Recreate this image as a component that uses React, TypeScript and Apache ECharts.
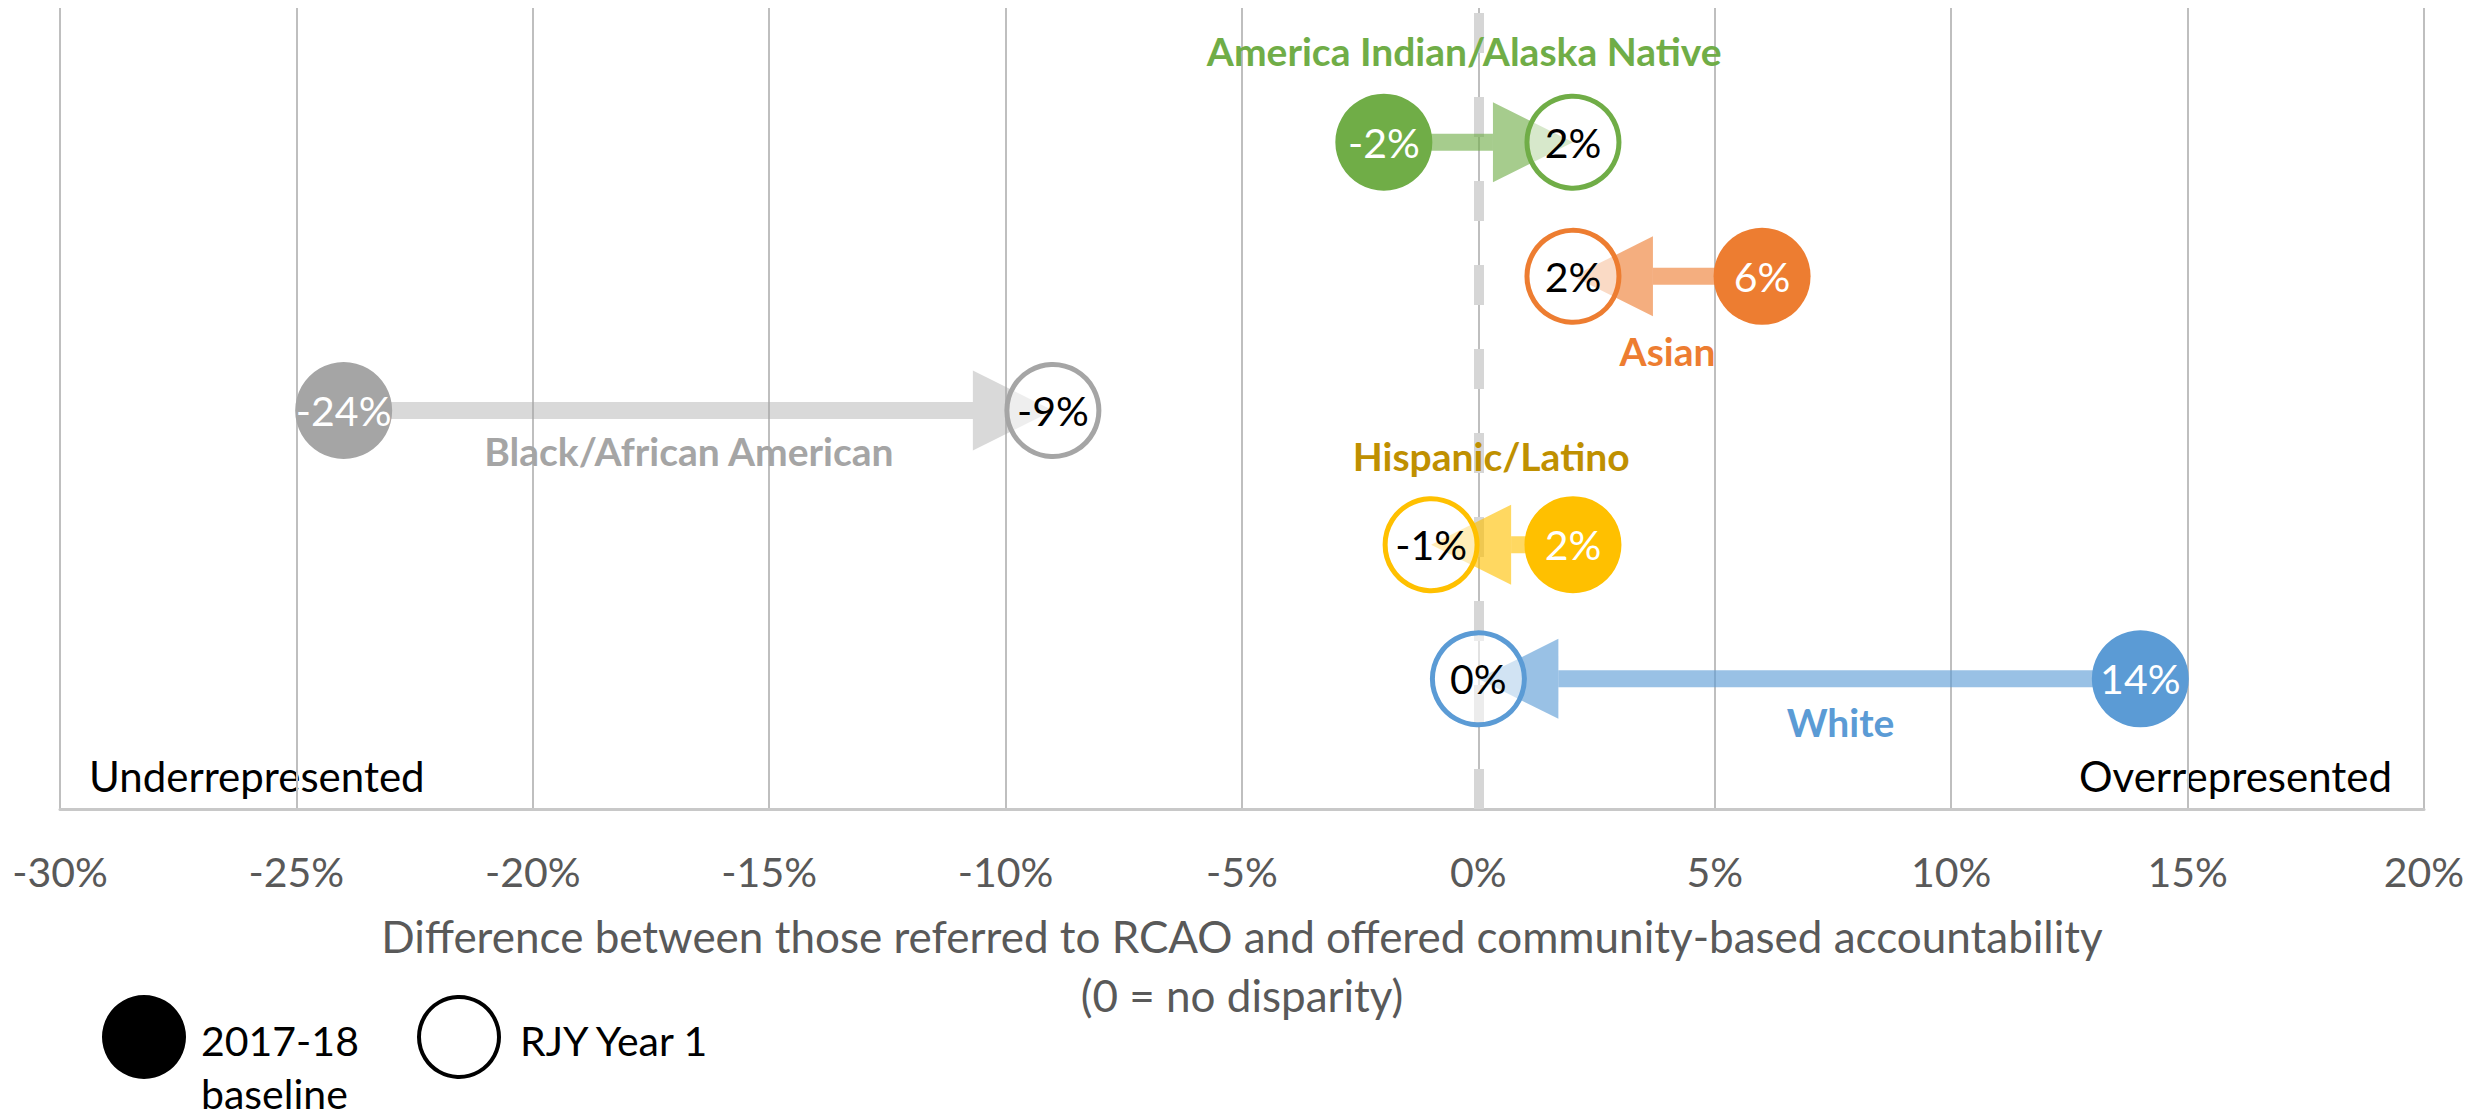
import React, { useEffect, useRef } from "react";
import * as echarts from "echarts";

const categories = ["America Indian/Alaska Native", "Asian", "Black/African American", "Hispanic/Latino", "White"];
const baseline = [-2, 6, -24, 2, 14];
const year1 = [2, 2, -9, -1, 0];
const rows = [5, 4, 3, 2, 1];
const colors = ["#70ad47", "#ed7d31", "#a5a5a5", "#ffc000", "#5b9bd5"];
const labelColors = ["#70ad47", "#ed7d31", "#a5a5a5", "#bf9000", "#5b9bd5"];
// label anchor (x in %, y in row units)
const labelAnchorX = [-0.3, 4.0, -16.7, 0.27, 7.66];
const labelAnchorY = [5.68, 3.44, 2.70, 2.66, 0.68];
const xTicks = { min: -30, max: 20, interval: 5 };

const FONT = "Lato";

export default function App() {
  const ref = useRef<HTMLDivElement>(null);
  useEffect(() => {
    document.body.style.margin = "0";
    const chart = echarts.init(ref.current!, undefined, { renderer: "svg" });
    const arrowData = categories.map((c, i) => [baseline[i], year1[i], rows[i], i]);
    const option: any = {
      animation: false,
      grid: { left: 60, right: 55, top: 8, bottom: 309 },
      xAxis: {
        type: "value",
        min: xTicks.min,
        max: xTicks.max,
        interval: xTicks.interval,
        axisLine: { show: true, lineStyle: { color: "#c8c8c8", width: 3 } },
        axisTick: { show: false },
        splitLine: { show: true, lineStyle: { color: "#bfbfbf", width: 2 } },
        axisLabel: {
          formatter: (v: number) => `${v}%`,
          color: "#595959",
          fontFamily: FONT,
          fontSize: 41,
          margin: 42,
        },
        name: "Difference between those referred to RCAO and offered community-based accountability\n(0 = no disparity)",
        nameLocation: "middle",
        nameGap: 97,
        nameTextStyle: { color: "#595959", fontFamily: FONT, fontSize: 44, lineHeight: 59 },
      },
      yAxis: { type: "value", min: 0.03, max: 6, show: false },
      series: [
        {
          type: "line",
          data: [],
          z: 1,
          markLine: {
            z: 1,
            silent: true,
            symbol: "none",
            label: { show: false },
            lineStyle: { color: "#d6d6d6", width: 10, type: [40, 44], opacity: 1 },
            data: [{ xAxis: 0 }],
          },
        },
        {
          type: "custom",
          z: 2,
          data: arrowData,
          encode: { x: [0, 1], y: 2 },
          renderItem: (params: any, api: any) => {
            const b = api.value(0);
            const r = api.value(1);
            const y = api.value(2);
            const idx = api.value(3);
            const p0 = api.coord([b, y]);
            const p1 = api.coord([r, y]);
            const dir = p1[0] > p0[0] ? 1 : -1;
            const headLen = 80;
            const headHalf = 40;
            const shaft = 17;
            const baseX = p1[0] - dir * headLen;
            const col = colors[idx];
            const op = idx === 2 ? 0.42 : 0.62;
            return {
              type: "group",
              children: [
                {
                  type: "rect",
                  shape: { x: Math.min(p0[0], baseX), y: p0[1] - shaft / 2, width: Math.abs(baseX - p0[0]), height: shaft },
                  style: { fill: col, opacity: op },
                },
                {
                  type: "polygon",
                  shape: { points: [[baseX, p1[1] - headHalf], [p1[0], p1[1]], [baseX, p1[1] + headHalf]] },
                  style: { fill: col, opacity: op },
                },
              ],
            };
          },
        },
        {
          type: "scatter",
          z: 3,
          symbol: "circle",
          symbolSize: 97,
          data: baseline.map((v, i) => ({
            value: [v, rows[i]],
            itemStyle: { color: colors[i], opacity: 1 },
          })),
          label: {
            show: true,
            position: "inside",
            formatter: (p: any) => `${p.value[0]}%`,
            color: "#ffffff",
            fontFamily: FONT,
            fontSize: 41,
          },
        },
        {
          type: "scatter",
          z: 3,
          symbol: "circle",
          symbolSize: 92,
          data: year1.map((v, i) => ({
            value: [v, rows[i]],
            itemStyle: { color: "rgba(255,255,255,0.55)", borderColor: colors[i], borderWidth: 5, opacity: 1 },
          })),
          label: {
            show: true,
            position: "inside",
            formatter: (p: any) => `${p.value[0]}%`,
            color: "#000000",
            fontFamily: FONT,
            fontSize: 41,
          },
        },
        {
          type: "scatter",
          z: 6,
          symbolSize: 0,
          itemStyle: { opacity: 1 },
          data: categories.map((c, i) => ({
            value: [labelAnchorX[i], labelAnchorY[i]],
            name: c,
            label: { color: labelColors[i] },
          })),
          label: {
            show: true,
            position: "inside",
            opacity: 1,
            formatter: (p: any) => p.name,
            fontFamily: FONT,
            fontWeight: "bold",
            fontSize: 39,
          },
        },
      ],
      graphic: [
        {
          type: "text",
          left: 89,
          top: 755,
          style: { text: "Underrepresented", fill: "#000", font: `42px ${FONT}` },
        },
        {
          type: "text",
          right: 87,
          top: 755,
          style: { text: "Overrepresented", fill: "#000", font: `42px ${FONT}` },
        },
        { type: "circle", shape: { cx: 144, cy: 1037, r: 42 }, style: { fill: "#000" } },
        {
          type: "text",
          x: 201,
          y: 1040,
          style: { text: "2017-18", fill: "#000", font: `41px ${FONT}`, verticalAlign: "middle" },
        },
        {
          type: "text",
          x: 201,
          y: 1093,
          style: { text: "baseline", fill: "#000", font: `41px ${FONT}`, verticalAlign: "middle", lineHeight: 36 },
        },
        { type: "circle", shape: { cx: 459, cy: 1037, r: 40 }, style: { fill: "#fff", stroke: "#000", lineWidth: 4 } },
        {
          type: "text",
          x: 520,
          y: 1040,
          style: { text: "RJY Year 1", fill: "#000", font: `41px ${FONT}`, verticalAlign: "middle" },
        },
      ],
    };
    chart.setOption(option);
    return () => chart.dispose();
  }, []);
  return <div ref={ref} style={{ width: 2479, height: 1118 }} />;
}
